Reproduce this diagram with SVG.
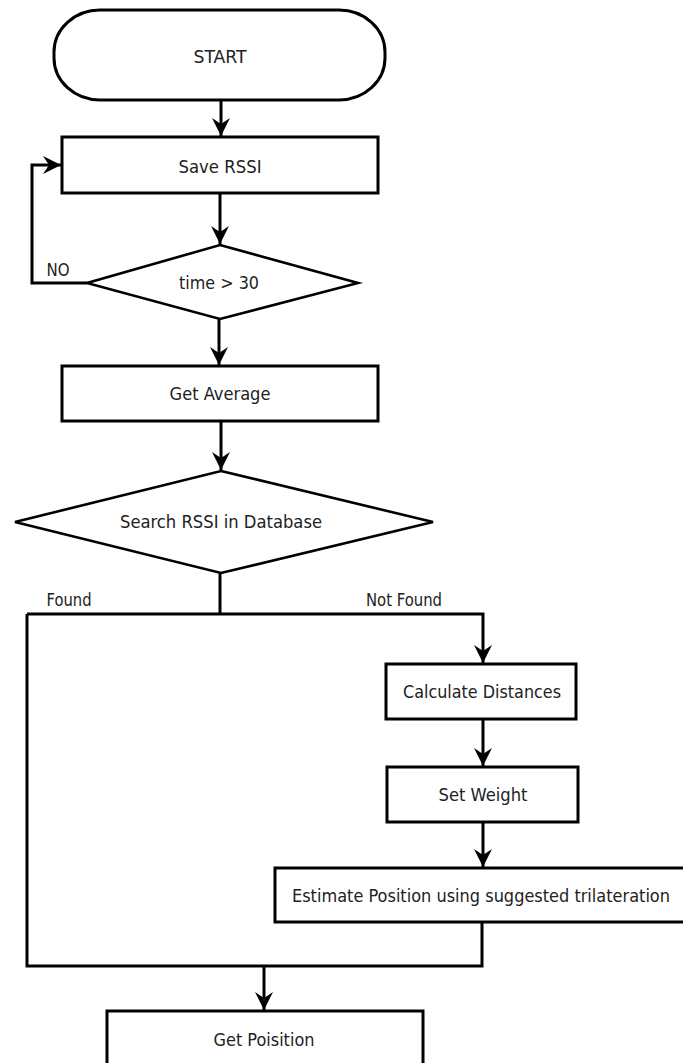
<svg xmlns="http://www.w3.org/2000/svg" width="683" height="1063" viewBox="0 0 683 1063">
<defs>
<marker id="arr" markerUnits="userSpaceOnUse" markerWidth="22" markerHeight="22" viewBox="-20 -11 22 22" refX="0" refY="0" orient="auto">
<path d="M0,0 L-18,-9 L-12,0 L-18,9 Z" fill="#000"/>
</marker>
</defs>
<style>
.shape{fill:#fff;stroke:#000;stroke-width:3}
.dia{fill:#fff;stroke:#000;stroke-width:2.6;stroke-linejoin:miter}
.conn{fill:none;stroke:#000;stroke-width:3}
text{font-family:"DejaVu Sans Condensed","DejaVu Sans",sans-serif;font-size:17px;fill:#222;text-anchor:middle}
</style>
<rect width="683" height="1063" fill="#fff"/>
<g id="connectors">
<path class="conn" d="M221,100 V136" marker-end="url(#arr)"/>
<path class="conn" d="M220,193 V244" marker-end="url(#arr)"/>
<path class="conn" d="M87,283 H32 V165 H61" marker-end="url(#arr)"/>
<path class="conn" d="M219,319 V365" marker-end="url(#arr)"/>
<path class="conn" d="M221,421 V470" marker-end="url(#arr)"/>
<path class="conn" d="M220,573 V614"/>
<path class="conn" d="M27,614 H483 V663" marker-end="url(#arr)"/>
<path class="conn" d="M27,614 V966 H482 V922"/>
<path class="conn" d="M483,719 V766" marker-end="url(#arr)"/>
<path class="conn" d="M483,822 V867" marker-end="url(#arr)"/>
<path class="conn" d="M264,966 V1010" marker-end="url(#arr)"/>
<text x="58" y="276" textLength="23" lengthAdjust="spacingAndGlyphs">NO</text>
<text x="69" y="606" textLength="45" lengthAdjust="spacingAndGlyphs">Found</text>
<text x="404" y="606" textLength="76" lengthAdjust="spacingAndGlyphs">Not Found</text>
</g>
<g id="start">
<rect class="shape" x="54" y="10" width="331" height="90" rx="46" ry="42"/>
<text x="220" y="63" textLength="53" lengthAdjust="spacingAndGlyphs">START</text>
</g>
<g id="save-rssi">
<rect class="shape" x="62" y="137" width="316" height="56"/>
<text x="220" y="173" textLength="83" lengthAdjust="spacingAndGlyphs">Save RSSI</text>
</g>
<g id="time-check">
<polygon class="dia" points="220,245 358,283 220,319 87,283"/>
<text x="219" y="289" textLength="80" lengthAdjust="spacingAndGlyphs">time &gt; 30</text>
</g>
<g id="get-average">
<rect class="shape" x="62" y="366" width="316" height="55"/>
<text x="220" y="400" textLength="101" lengthAdjust="spacingAndGlyphs">Get Average</text>
</g>
<g id="search-db">
<polygon class="dia" points="221,471 433,522 221,573 15,522"/>
<text x="221" y="528" textLength="202" lengthAdjust="spacingAndGlyphs">Search RSSI in Database</text>
</g>
<g id="calc-distances">
<rect class="shape" x="386" y="664" width="190" height="55"/>
<text x="482" y="698" textLength="158" lengthAdjust="spacingAndGlyphs">Calculate Distances</text>
</g>
<g id="set-weight">
<rect class="shape" x="387" y="767" width="191" height="55"/>
<text x="483" y="801" textLength="89" lengthAdjust="spacingAndGlyphs">Set Weight</text>
</g>
<g id="estimate-position">
<rect class="shape" x="275" y="868" width="420" height="54"/>
<text x="481" y="902" textLength="378" lengthAdjust="spacingAndGlyphs">Estimate Position using suggested trilateration</text>
</g>
<g id="get-position">
<rect class="shape" x="107" y="1011" width="316" height="70"/>
<text x="264" y="1046" textLength="101" lengthAdjust="spacingAndGlyphs">Get Poisition</text>
</g>
</svg>
